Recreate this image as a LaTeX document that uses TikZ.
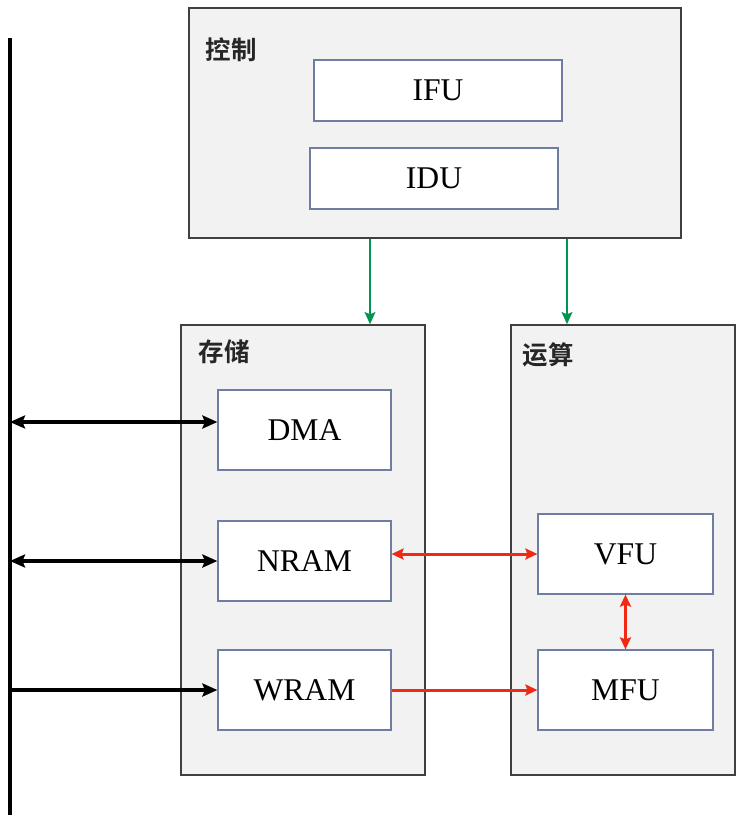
\documentclass[tikz,border=0pt]{standalone}
\usepackage{fontspec}
\setmainfont{Liberation Serif}
\newfontfamily\cjk{Noto Sans CJK SC}[BoldFont={Noto Sans CJK SC Bold}]
\usetikzlibrary{arrows.meta}
\definecolor{outerfill}{RGB}{242,242,242}
\definecolor{outerline}{RGB}{64,64,64}
\definecolor{innerline}{RGB}{110,125,160}
\definecolor{grn}{RGB}{0,150,80}
\definecolor{rd}{RGB}{240,40,20}
\tikzset{
  outerbox/.style={draw=outerline, fill=outerfill, line width=0.9pt},
  innerbox/.style={draw=innerline, fill=white, line width=0.7pt, font=\fontsize{18}{20}\selectfont},
  grouplabel/.style={font=\cjk\bfseries\fontsize{14.5}{16}\selectfont, text=black!85, inner sep=0pt},
  busline/.style={line width=2.1pt, black},
  blackarrow/.style={line width=2pt, black},
  bhead/.tip={Stealth[length=3mm,width=2.6mm,inset=0.5mm]},
  rhead/.tip={Stealth[length=2.4mm,width=2.2mm,inset=0.4mm]},
  redarrow/.style={line width=1.7pt, rd, rhead-rhead},
  redone/.style={line width=1.7pt, rd, -rhead},
  greenarrow/.style={line width=1.5pt, grn, -{Stealth[length=2.4mm,width=2.1mm,inset=0.4mm]}},
}
\begin{document}
\begin{tikzpicture}[x=0.02cm, y=-0.02cm]
\useasboundingbox (0,0) rectangle (746,819);
% outer boxes
\node[outerbox, minimum width=9.84cm, minimum height=4.6cm] (ctrl) at (435,123) {};
\node[outerbox, minimum width=4.88cm, minimum height=9cm] (store) at (303,550) {};
\node[outerbox, minimum width=4.48cm, minimum height=9cm] (comp) at (623,550) {};
% group labels
\node[grouplabel] (lctrl) at (231,50) {控制};
\node[grouplabel] (lstore) at (224,352) {存储};
\node[grouplabel] (lcomp) at (548,355) {运算};
% inner boxes
\node[innerbox, minimum width=4.96cm, minimum height=1.22cm] (ifu) at (438,90.5) {IFU};
\node[innerbox, minimum width=4.96cm, minimum height=1.22cm] (idu) at (434,178.5) {IDU};
\node[innerbox, minimum width=3.46cm, minimum height=1.6cm] (dma) at (304.5,430) {DMA};
\node[innerbox, minimum width=3.46cm, minimum height=1.6cm] (nram) at (304.5,561) {NRAM};
\node[innerbox, minimum width=3.46cm, minimum height=1.6cm] (wram) at (304.5,690) {WRAM};
\node[innerbox, minimum width=3.5cm, minimum height=1.6cm] (vfu) at (625.5,554) {VFU};
\node[innerbox, minimum width=3.5cm, minimum height=1.6cm] (mfu) at (625.5,690) {MFU};
% bus
\coordinate (bt) at (10,38);
\coordinate (bb) at (10,815);
\draw[busline] (bt) -- (bb);
\coordinate (d1) at (0,422);
\draw[blackarrow, bhead-bhead] (bt |- d1) -- (dma.west |- d1);
\draw[blackarrow, bhead-bhead] (bt |- nram.west) -- (nram.west);
\draw[blackarrow, -bhead] (bt |- wram.west) -- (wram.west);
% green control arrows
\coordinate (g1) at (370,0);
\coordinate (g2) at (567,0);
\draw[greenarrow] (ctrl.south -| g1) -- (store.north -| g1);
\draw[greenarrow] (ctrl.south -| g2) -- (comp.north -| g2);
% red data arrows
\draw[redarrow] (nram.east |- vfu.west) -- (vfu.west);
\draw[redone] (wram.east) -- (mfu.west);
\draw[redarrow] (vfu.south) -- (mfu.north);
\end{tikzpicture}
\end{document}
